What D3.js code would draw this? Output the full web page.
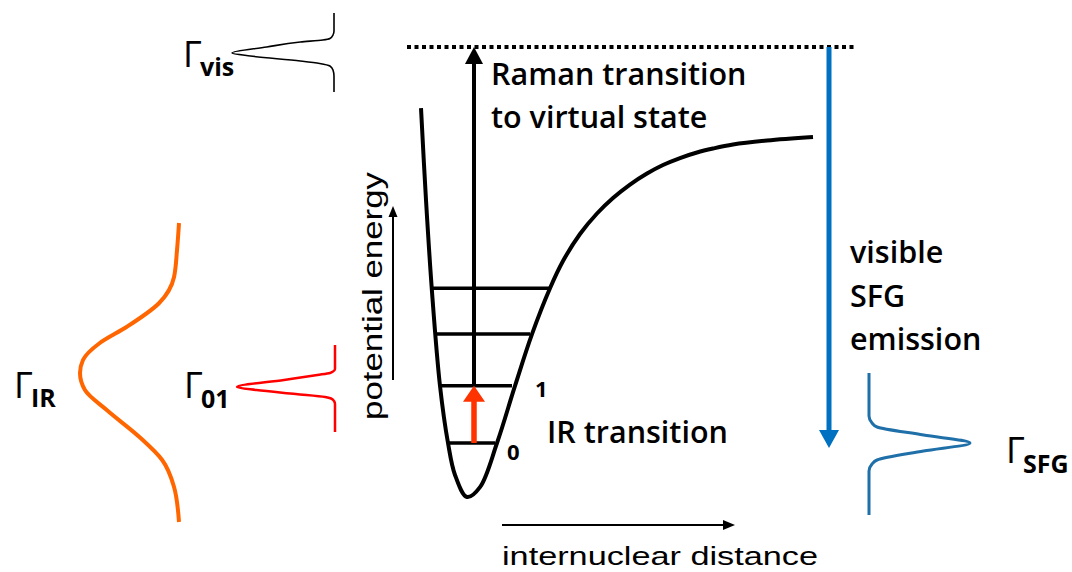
<!DOCTYPE html>
<html>
<head>
<meta charset="utf-8">
<script src="https://cdn.jsdelivr.net/npm/d3@7"></script>
<style>
  html, body { margin: 0; padding: 0; background: #ffffff; }
  svg { display: block; }
</style>
</head>
<body>
<svg id="chart" width="1072" height="572"></svg>
<script>
// ---- Potential energy curve (internuclear distance r, energy E; arbitrary units)
const wellR = [0.025, 0.15, 0.3, 0.5, 0.7, 0.875, 1.175, 1.5, 1.925, 2.375, 2.8, 3.25, 3.575, 4.0, 4.425, 4.825, 5.25, 5.675, 6.075, 6.5, 6.925, 7.325, 7.825, 8.675, 9.825];
const wellE = [8.64, 6.6, 4.56, 2.47, 1.2, 0.49, 0.0, 0.22, 1.2, 2.47, 3.62, 4.64, 5.244, 5.844, 6.3, 6.644, 6.944, 7.189, 7.378, 7.533, 7.656, 7.744, 7.833, 7.922, 8.0];

// ---- Vibrational levels v = 0..3 (energy and the two turning points)
const levelV = [0, 1, 2, 3];
const levelE = [1.2, 2.47, 3.62, 4.64];
const levelRLeft = [0.675, 0.5, 0.4, 0.325];
const levelRRight = [1.875, 2.3, 2.75, 3.25];

// ---- Virtual state and transitions
const virtualE = 10;
const virtualRange = [-0.325, 10.875];
const transitionR = 1.35;          // IR and Raman excitation position
const emissionR = 10.225;          // SFG emission position
const emissionEnd = 1.09;

// ---- Line profiles: [frequency offset, normalised intensity]
const visProfile = [[-40, 0], [-22, 0], [-18, 0.01], [-14.5, 0.04], [-13, 0.11], [-11, 0.33], [-6, 0.66], [0, 1], [3, 0.82], [8, 0.33], [10.5, 0.14], [13, 0.04], [17, 0.01], [23, 0], [39, 0]];
const o1Profile = [[-42, 0], [-18, 0], [-15.5, 0.02], [-14, 0.05], [-12, 0.18], [-7, 0.52], [0, 1], [3, 0.8], [7, 0.4], [10, 0.1], [11.5, 0.04], [14, 0.01], [17, 0], [45, 0]];
const irProfile = [[-153, 0], [-126, 0.02], [-99, 0.05], [-73, 0.2], [-49, 0.53], [-33, 0.8], [-16, 0.97], [-3, 1], [14, 0.95], [34, 0.73], [61, 0.4], [84, 0.17], [111, 0.05], [146, 0]];
const sfgProfile = [[-70, 0], [-27, 0], [-20, 0.03], [-16, 0.08], [-8, 0.54], [0, 1], [8, 0.54], [17, 0.08], [21, 0.03], [28, 0], [72, 0]];

// ---- Text
const ramanLines = ["Raman transition", "to virtual state"];
const emissionLines = ["visible", "SFG", "emission"];
const irLabel = "IR transition";
const xAxisLabel = "internuclear distance";
const yAxisLabel = "potential energy";

const svg = d3.select("#chart");
const calibriLike = "'Open Sans', 'Noto Sans', sans-serif";
const arialLike = "'Liberation Sans', Arial, sans-serif";
const textWeight = 600;

// Scales for the energy diagram
const x = d3.scaleLinear().domain([0, 10]).range([420, 820]);
const y = d3.scaleLinear().domain([0, 10]).range([497, 47]);

// Arrow helper: straight shaft with a filled triangular head at the end
function arrow(g, x1, y1, x2, y2, color, width, headLen, headW) {
  const dx = x2 - x1, dy = y2 - y1;
  const len = Math.hypot(dx, dy);
  const ux = dx / len, uy = dy / len;
  const bx = x2 - ux * headLen, by = y2 - uy * headLen;
  g.append("line")
    .attr("x1", x1).attr("y1", y1).attr("x2", bx + ux * 1).attr("y2", by + uy * 1)
    .attr("stroke", color).attr("stroke-width", width);
  const px = -uy, py = ux;
  g.append("path")
    .attr("d", `M${x2},${y2}L${bx + px * headW / 2},${by + py * headW / 2}L${bx - px * headW / 2},${by - py * headW / 2}Z`)
    .attr("fill", color);
}

const diagram = svg.append("g");

// Virtual state (dotted)
diagram.append("line")
  .attr("x1", x(virtualRange[0])).attr("x2", x(virtualRange[1]))
  .attr("y1", y(virtualE)).attr("y2", y(virtualE))
  .attr("stroke", "#000").attr("stroke-width", 4)
  .attr("stroke-dasharray", "4,3.5");

// Vibrational levels
diagram.selectAll("line.level")
  .data(levelV)
  .join("line")
  .attr("class", "level")
  .attr("x1", (d, i) => x(levelRLeft[i]))
  .attr("x2", (d, i) => x(levelRRight[i]))
  .attr("y1", (d, i) => y(levelE[i]))
  .attr("y2", (d, i) => y(levelE[i]))
  .attr("stroke", "#000").attr("stroke-width", 3.5);

// Potential well
const wellLine = d3.line()
  .x(d => x(d[0])).y(d => y(d[1]))
  .curve(d3.curveCatmullRom.alpha(0.5));
diagram.append("path")
  .datum(wellR.map((r, i) => [r, wellE[i]]))
  .attr("d", wellLine)
  .attr("fill", "none").attr("stroke", "#000").attr("stroke-width", 4)
  .attr("stroke-linejoin", "round");

// Raman transition to the virtual state
arrow(diagram, x(transitionR), y(levelE[1]), x(transitionR), y(virtualE), "#000", 4, 17, 18);
// IR transition 0 -> 1
arrow(diagram, x(transitionR), y(levelE[0]), x(transitionR), y(levelE[1]), "#ff3300", 5.5, 16, 22);
// SFG emission
arrow(diagram, x(emissionR), y(virtualE), x(emissionR), y(emissionEnd), "#0070c0", 5, 18, 20);

// Level numbers
const levelNums = [{ v: "0", i: 0, dx: 12, dy: 17 }, { v: "1", i: 1, dx: 23, dy: 11 }];
diagram.selectAll("text.vnum")
  .data(levelNums)
  .join("text")
  .attr("class", "vnum")
  .attr("x", d => x(levelRRight[d.i]) + d.dx)
  .attr("y", d => y(levelE[d.i]) + d.dy)
  .attr("font-family", calibriLike).attr("font-weight", 700).attr("font-size", 22)
  .text(d => d.v);

// Axis arrows and labels
arrow(svg, 393, 380, 393, 206, "#000", 2, 11, 9);
arrow(svg, 502, 525, 735, 525, "#000", 2, 12, 10);

svg.append("text")
  .attr("transform", "translate(382,420) rotate(-90)")
  .attr("font-family", arialLike).attr("font-size", 27)
  .attr("textLength", 248).attr("lengthAdjust", "spacingAndGlyphs")
  .text(yAxisLabel);

svg.append("text")
  .attr("x", 502).attr("y", 565)
  .attr("font-family", arialLike).attr("font-size", 25)
  .attr("textLength", 316).attr("lengthAdjust", "spacingAndGlyphs")
  .text(xAxisLabel);

// Annotations
svg.selectAll("text.raman")
  .data(ramanLines)
  .join("text")
  .attr("class", "raman")
  .attr("x", 491).attr("y", (d, i) => 85 + i * 43)
  .attr("font-family", calibriLike).attr("font-size", 30.5).attr("font-weight", textWeight)
  .text(d => d);

svg.selectAll("text.emis")
  .data(emissionLines)
  .join("text")
  .attr("class", "emis")
  .attr("x", 850).attr("y", (d, i) => 263 + i * 43.5)
  .attr("font-family", calibriLike).attr("font-size", 30.5).attr("font-weight", textWeight)
  .text(d => d);

svg.append("text")
  .attr("x", 547).attr("y", 443)
  .attr("font-family", calibriLike).attr("font-size", 30.5).attr("font-weight", textWeight)
  .text(irLabel);

// Line-shape profiles
function profile(data, cy, baseX, peakX, color, width) {
  const py = d3.scaleLinear().domain([0, 1]).range([cy, cy + 1]);
  const px = d3.scaleLinear().domain([0, 1]).range([baseX, peakX]);
  svg.append("path")
    .datum(data)
    .attr("d", d3.line().x(d => px(d[1])).y(d => py(d[0])).curve(d3.curveMonotoneY))
    .attr("fill", "none").attr("stroke", color).attr("stroke-width", width)
    .attr("stroke-linejoin", "round");
}
profile(visProfile, 53, 334, 232, "#000000", 1.6);
profile(o1Profile, 387, 335, 237, "#ff0000", 2.5);
profile(irProfile, 376, 179, 80, "#ff6600", 4);
profile(sfgProfile, 443, 869, 970, "#1f6fa8", 3);

// Linewidth labels
const gammaLabels = [
  { sub: "vis", x: 183, y: 67, sy: 76 },
  { sub: "IR", x: 14, y: 398, sy: 407 },
  { sub: "01", x: 184, y: 398, sy: 408 },
  { sub: "SFG", x: 1006, y: 463, sy: 473 }
];
const gl = svg.selectAll("g.gamma").data(gammaLabels).join("g").attr("class", "gamma");
gl.append("text")
  .attr("x", d => d.x).attr("y", d => d.y)
  .attr("font-family", calibriLike).attr("font-size", 36)
  .text("Γ");
gl.append("text")
  .attr("x", d => d.x + 17).attr("y", d => d.sy)
  .attr("font-family", calibriLike).attr("font-size", 25).attr("font-weight", 700)
  .text(d => d.sub);
</script>
</body>
</html>
